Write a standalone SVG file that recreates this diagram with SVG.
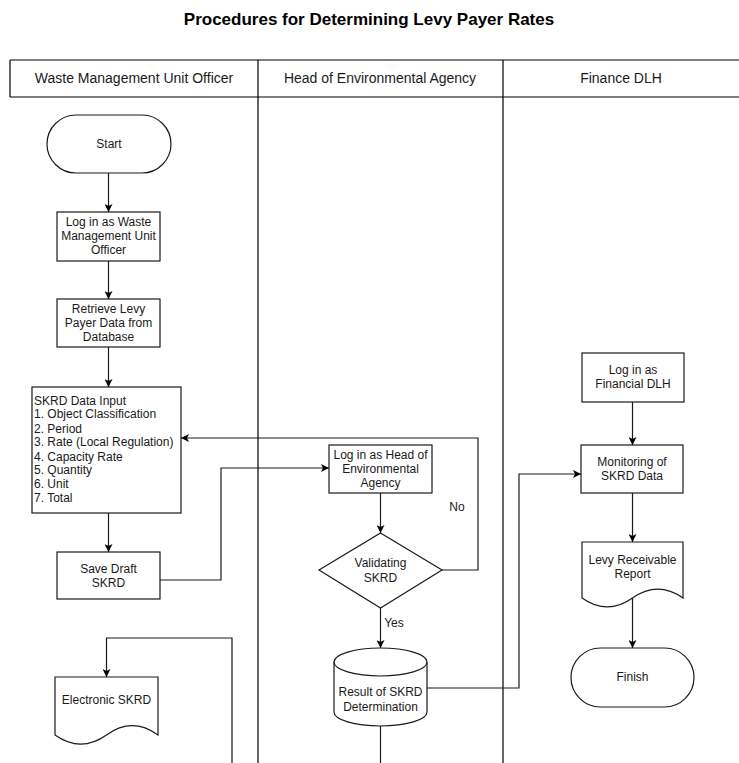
<svg xmlns="http://www.w3.org/2000/svg" width="739" height="763" viewBox="0 0 739 763">
  <style>
    .shape { fill: #ffffff; stroke: #1a1a1a; stroke-width: 1.2; }
    .line { fill: none; stroke: #1a1a1a; stroke-width: 1.2; }
    .lane { fill: none; stroke: #000000; stroke-width: 1.2; }
    text { font-family: "Liberation Sans", Arial, sans-serif; fill: #1a1a1a; }
    .t { font-size: 12px; text-anchor: middle; }
    .tl { font-size: 12px; text-anchor: start; }
    .hdr { font-size: 14px; text-anchor: middle; }
    .title { font-size: 17px; font-weight: bold; text-anchor: middle; fill: #000; }
  </style>
  <defs>
    <marker id="arrow" viewBox="0 0 10 10" refX="10" refY="5" markerWidth="8" markerHeight="8" markerUnits="userSpaceOnUse" orient="auto">
      <path d="M0,0 L10,5 L0,10 L2.5,5 Z" fill="#000"/>
    </marker>
  </defs>

  <rect width="739" height="763" fill="#ffffff"/>

  <!-- title -->
  <text class="title" x="369" y="25">Procedures for Determining Levy Payer Rates</text>

  <!-- swimlanes -->
  <g id="lanes">
    <path class="lane" d="M10,60 H745 M10,97 H745 M10,60 V97 M258,60 V763 M503,60 V763"/>
    <text class="hdr" x="134" y="83">Waste Management Unit Officer</text>
    <text class="hdr" x="380" y="83">Head of Environmental Agency</text>
    <text class="hdr" x="621" y="83">Finance DLH</text>
  </g>

  <!-- connectors -->
  <g id="connectors">
    <path class="line" d="M108.5,173 V212" marker-end="url(#arrow)"/>
    <path class="line" d="M108.5,261 V299" marker-end="url(#arrow)"/>
    <path class="line" d="M108.5,347 V387" marker-end="url(#arrow)"/>
    <path class="line" d="M108.5,513 V552" marker-end="url(#arrow)"/>
    <path class="line" d="M160,580 H221 V468 H329" marker-end="url(#arrow)"/>
    <path class="line" d="M380.5,493 V533" marker-end="url(#arrow)"/>
    <path class="line" d="M442,570 H478 V438 H181" marker-end="url(#arrow)"/>
    <text class="t" x="457" y="511">No</text>
    <path class="line" d="M380.5,608 V648" marker-end="url(#arrow)"/>
    <text class="t" x="394" y="627">Yes</text>
    <path class="line" d="M427,688 H519 V474 H581" marker-end="url(#arrow)"/>
    <path class="line" d="M632.5,402 V445" marker-end="url(#arrow)"/>
    <path class="line" d="M632.5,493 V542" marker-end="url(#arrow)"/>
    <path class="line" d="M632.5,598 V648" marker-end="url(#arrow)"/>
    <path class="line" d="M380.5,726 V763"/>
    <path class="line" d="M232,763 V638 H106.5 V677" marker-end="url(#arrow)"/>
  </g>

  <!-- Waste Management Unit Officer lane -->
  <g id="start">
    <rect class="shape" x="47" y="115" width="124" height="58" rx="29" ry="29"/>
    <text class="t" x="109" y="148">Start</text>
  </g>
  <g id="login-officer">
    <rect class="shape" x="57" y="212" width="103" height="49"/>
    <text class="t" x="108.5" y="226">Log in as Waste</text>
    <text class="t" x="108.5" y="240">Management Unit</text>
    <text class="t" x="108.5" y="254">Officer</text>
  </g>
  <g id="retrieve">
    <rect class="shape" x="57" y="299" width="103" height="48"/>
    <text class="t" x="108.5" y="313">Retrieve Levy</text>
    <text class="t" x="108.5" y="327">Payer Data from</text>
    <text class="t" x="108.5" y="341">Database</text>
  </g>
  <g id="skrd-input">
    <rect class="shape" x="32" y="387" width="149" height="126"/>
    <text class="tl" x="34" y="405">SKRD Data Input</text>
    <text class="tl" x="34" y="418">1. Object Classification</text>
    <text class="tl" x="34" y="433">2. Period</text>
    <text class="tl" x="34" y="446">3. Rate (Local Regulation)</text>
    <text class="tl" x="34" y="461">4. Capacity Rate</text>
    <text class="tl" x="34" y="474">5. Quantity</text>
    <text class="tl" x="34" y="488">6. Unit</text>
    <text class="tl" x="34" y="502">7. Total</text>
  </g>
  <g id="save-draft">
    <rect class="shape" x="57" y="552" width="103" height="47"/>
    <text class="t" x="108.5" y="573">Save Draft</text>
    <text class="t" x="108.5" y="587">SKRD</text>
  </g>
  <g id="electronic-skrd">
    <path class="shape" d="M55,677 H158 V735 Q132.25,716.4 106.5,735 Q80.75,753.2 55,735 Z"/>
    <text class="t" x="106.5" y="704">Electronic SKRD</text>
  </g>

  <!-- Head of Environmental Agency lane -->
  <g id="login-head">
    <rect class="shape" x="329" y="445" width="103" height="48"/>
    <text class="t" x="380.5" y="459">Log in as Head of</text>
    <text class="t" x="380.5" y="473">Environmental</text>
    <text class="t" x="380.5" y="487">Agency</text>
  </g>
  <g id="validating">
    <path class="shape" d="M380.5,533 L442,570 L380.5,608 L319,570 Z"/>
    <text class="t" x="380.5" y="567">Validating</text>
    <text class="t" x="380.5" y="582">SKRD</text>
  </g>
  <g id="result">
    <path class="shape" d="M334,662 A46.5,14 0 0 1 427,662 V712 A46.5,14 0 0 1 334,712 Z"/>
    <path class="line" d="M334,662 A46.5,14 0 0 0 427,662"/>
    <text class="t" x="380.5" y="696">Result of SKRD</text>
    <text class="t" x="380.5" y="711">Determination</text>
  </g>

  <!-- Finance DLH lane -->
  <g id="login-finance">
    <rect class="shape" x="582" y="353" width="102" height="49"/>
    <text class="t" x="633" y="374">Log in as</text>
    <text class="t" x="633" y="388">Financial DLH</text>
  </g>
  <g id="monitoring">
    <rect class="shape" x="581" y="445" width="102" height="48"/>
    <text class="t" x="632" y="466">Monitoring of</text>
    <text class="t" x="632" y="480">SKRD Data</text>
  </g>
  <g id="report">
    <path class="shape" d="M582,542 H683 V598 Q657.75,580.3 632.5,598 Q607.25,615.9 582,598 Z"/>
    <text class="t" x="632.5" y="564">Levy Receivable</text>
    <text class="t" x="632.5" y="578">Report</text>
  </g>
  <g id="finish">
    <rect class="shape" x="571" y="648" width="123" height="59" rx="29.5" ry="29.5"/>
    <text class="t" x="632.5" y="681">Finish</text>
  </g>
</svg>
